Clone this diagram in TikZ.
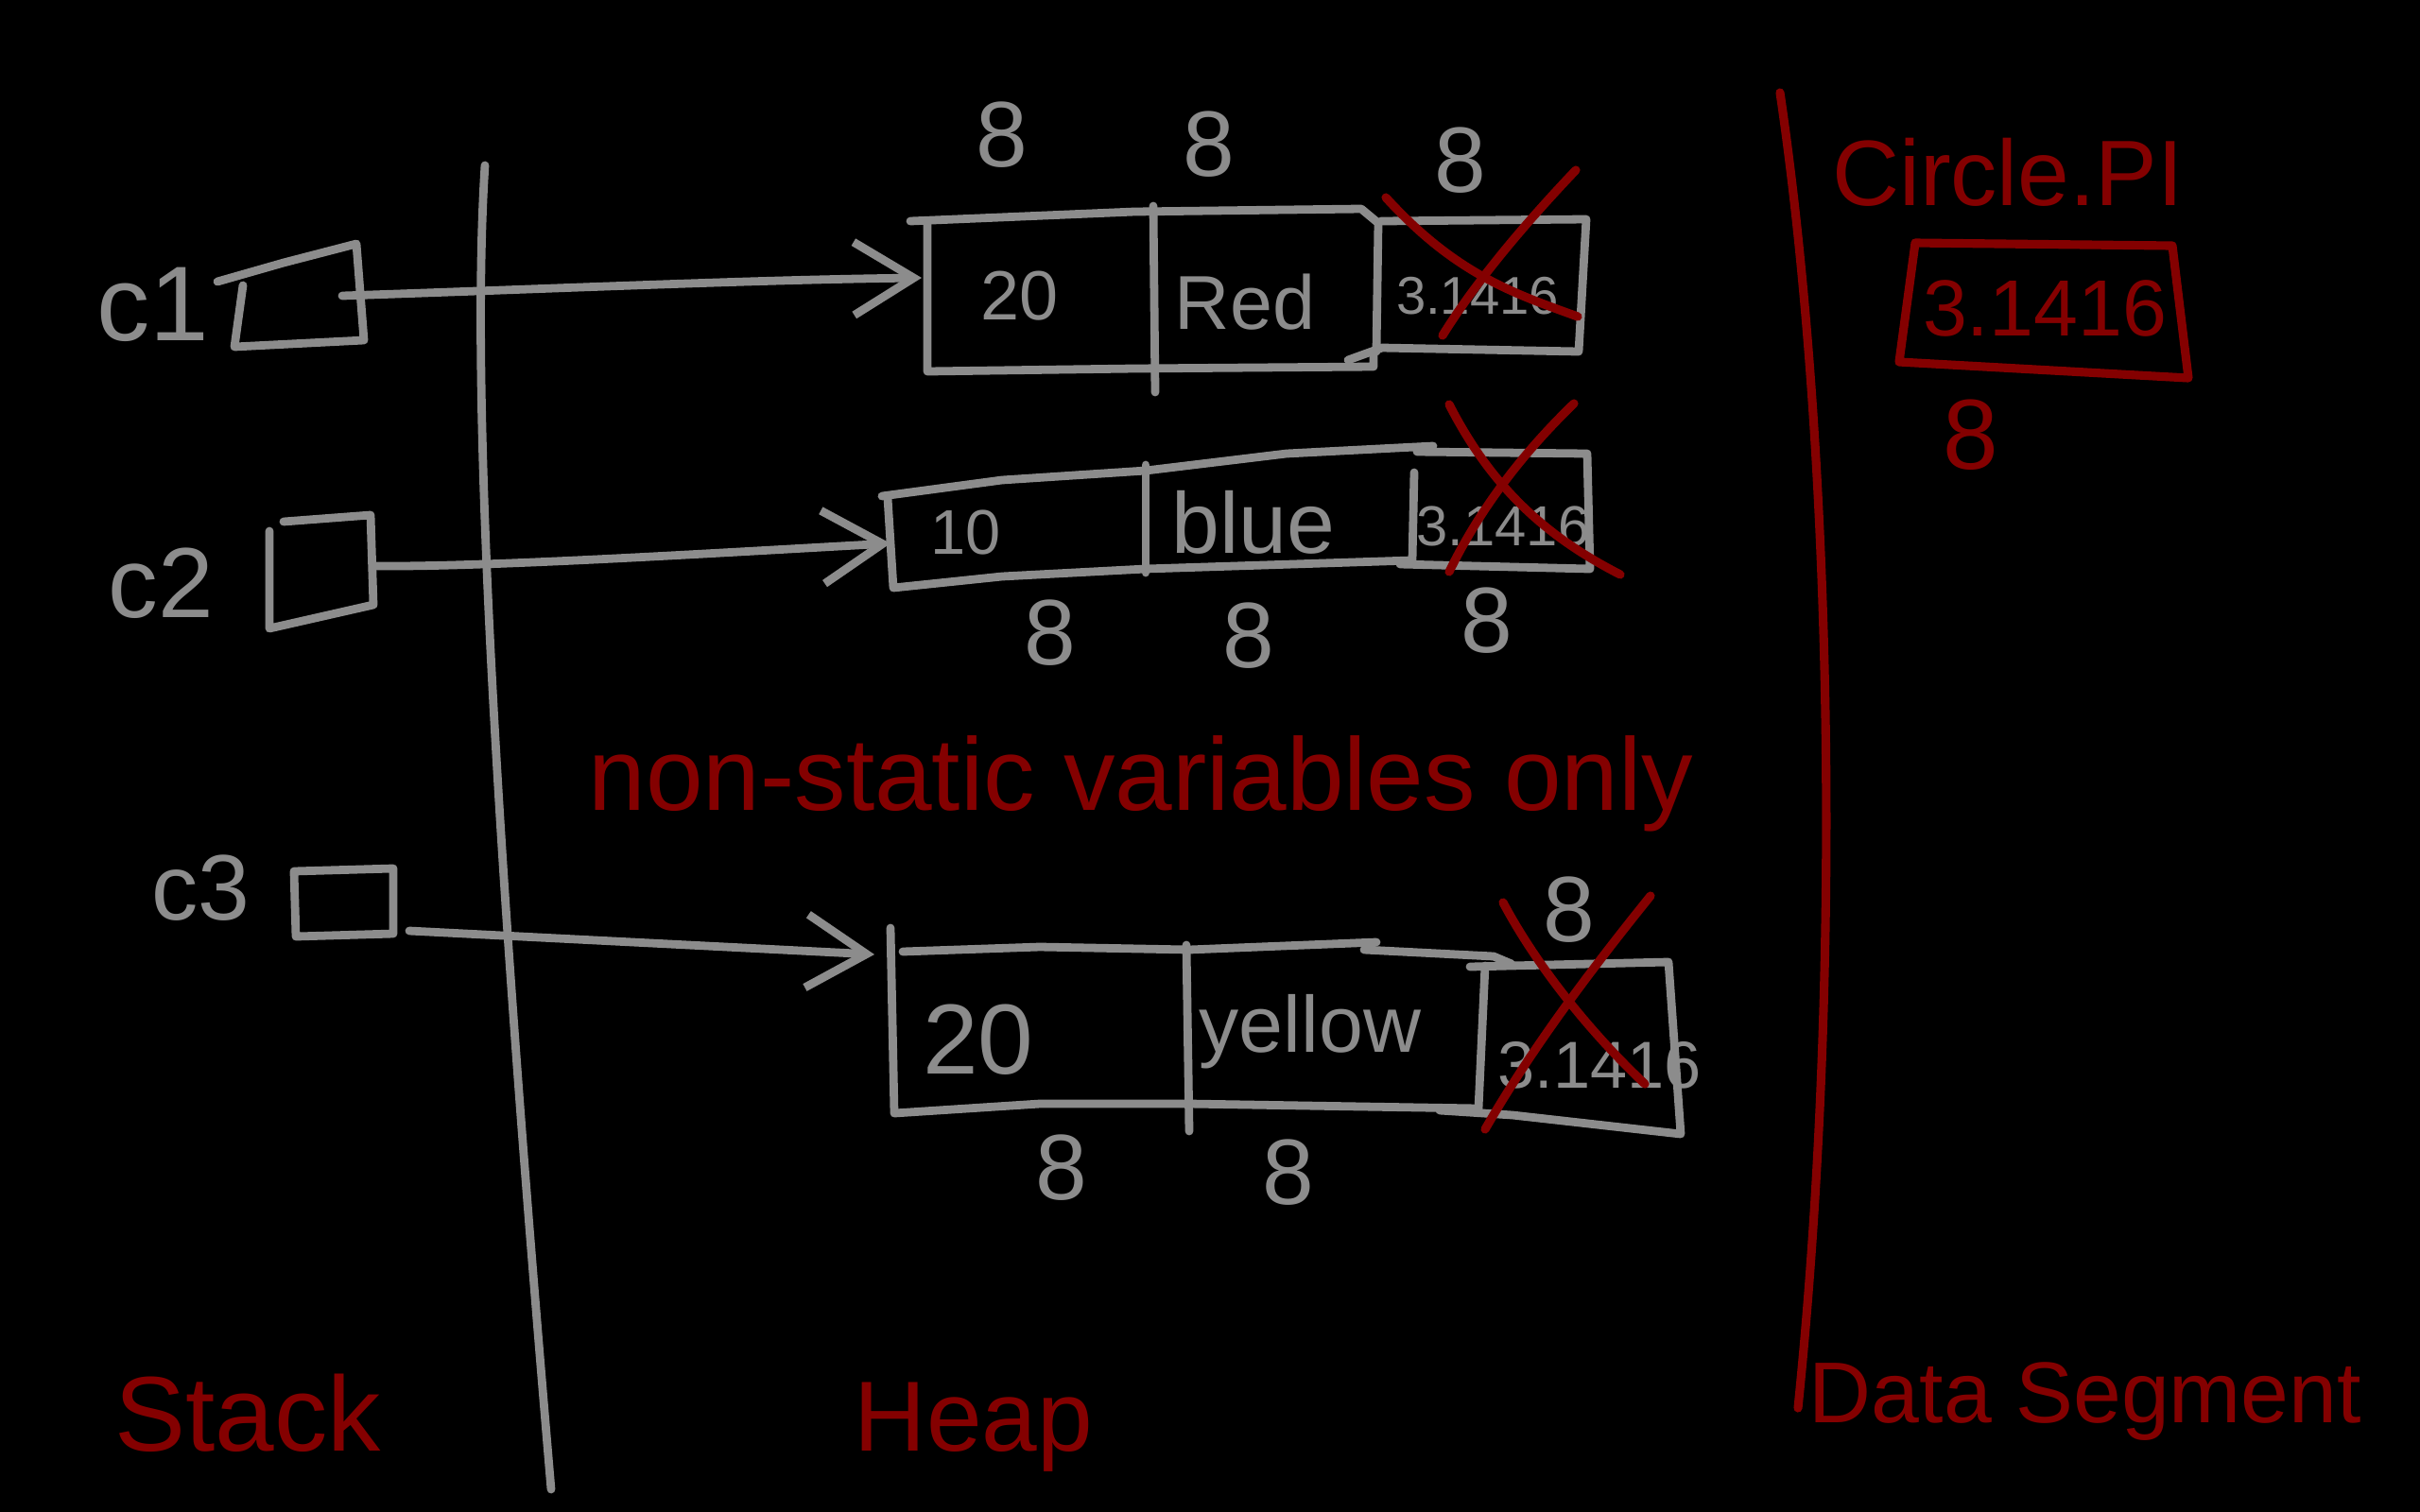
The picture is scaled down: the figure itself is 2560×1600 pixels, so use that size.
\documentclass[tikz,border=0pt]{standalone}
\usepackage{fontspec}
\setmainfont{Liberation Sans}
\usetikzlibrary{arrows.meta}
\definecolor{chalk}{RGB}{140,140,140}
\definecolor{ink}{RGB}{132,0,0}
\newcommand\myfs[1]{\fontsize{#1}{#1}\selectfont}
\begin{document}
\begin{tikzpicture}[x=0.1mm,y=-0.1mm,
  stroke/.style={draw=chalk,line width=2.5pt,line cap=round,line join=round},
  redstroke/.style={draw=ink,line width=2.6pt,line cap=round,line join=round},
  ptr/.style={stroke,-{Straight Barb[length=18pt,width=22pt,line width=2.5pt]}},
  gt/.style={text=chalk,inner sep=0pt},
  rt/.style={text=ink,inner sep=0pt},
]
\fill[black] (0,0) rectangle (2560,1600);
\useasboundingbox (0,0) rectangle (2560,1600);

% region dividers
\draw[stroke] (513,175) .. controls (497,420) and (525,900) .. (583,1576);
\draw[redstroke] (1883,98) .. controls (1935,450) and (1952,1000) .. (1902,1490);

% region labels
\node[rt,font=\myfs{32},anchor=base] (lstack) at (262,1535) {Stack};
\node[rt,font=\myfs{30},anchor=base] (lheap) at (1030,1535) {Heap};
\node[rt,font=\myfs{26},anchor=base] (ldata) at (2206,1505) {Data Segment};
\node[rt,font=\myfs{31},anchor=base] (lnote) at (1207,857) {non-static variables only};

% data segment static field
\node[rt,font=\myfs{28},anchor=base] (lpi) at (2124,217) {Circle.PI};
\draw[redstroke] (2026,257) -- (2298,260) -- (2315,400) -- (2009,383) -- (2026,257);
\node[rt,font=\myfs{24}] (vpi) at (2163,326) {3.1416};
\node[rt,font=\myfs{30}] (spi) at (2085,460) {8};

% stack variables
\node[gt,font=\myfs{32}] (lc1) at (162,322) {c1};
\node[gt,font=\myfs{30}] (lc2) at (170,617) {c2};
\node[gt,font=\myfs{28}] (lc3) at (212,940) {c3};
\draw[stroke] (257,302) -- (248,367) -- (385,360) -- (377,258) -- (300,278) -- (230,298);
\draw[stroke] (285,562) -- (285,665) -- (395,640) -- (392,545) -- (300,552);
\draw[stroke] (311,922) -- (313,991) -- (416,988) -- (416,919) -- (311,922);
\coordinate (s1) at (362,313);
\coordinate (s2) at (397,599);
\coordinate (s3) at (433,985);

% heap object 1
\draw[stroke] (963,234) -- (1200,224) -- (1440,221) -- (1458,236) -- (1456,372);
\draw[stroke] (981,236) -- (981,393) -- (1200,390) -- (1453,388) -- (1453,372);
\draw[stroke] (1220,218) -- (1222,415);
\draw[stroke] (1461,234) -- (1678,232) -- (1670,372) -- (1462,368) -- (1426,381);
\coordinate (h1) at (975,294);
\node[gt,font=\myfs{21}] (t11) at (1079,313) {20};
\node[gt,font=\myfs{23}] (t12) at (1317,320) {Red};
\node[gt,font=\myfs{16}] (t13) at (1563,313) {3.1416};
\node[gt,font=\myfs{28}] (z11) at (1060,143) {8};
\node[gt,font=\myfs{28}] (z12) at (1279,153) {8};
\node[gt,font=\myfs{28}] (z13) at (1545,170) {8};
\draw[redstroke] (1466,209) .. controls (1540,290) and (1600,310) .. (1669,335);
\draw[redstroke] (1667,180) .. controls (1610,240) and (1560,300) .. (1526,355);

% heap object 2
\draw[stroke] (939,527) -- (945,622) -- (1060,610) -- (1212,602) -- (1493,593);
\draw[stroke] (933,525) -- (1060,508) -- (1212,498) -- (1361,480) -- (1516,472);
\draw[stroke] (1212,492) -- (1212,606);
\draw[stroke] (1496,500) -- (1494,593);
\draw[stroke] (1499,478) -- (1679,480) -- (1682,602) -- (1481,597);
\coordinate (h2) at (942,575);
\node[gt,font=\myfs{19}] (t21) at (1022,563) {10};
\node[gt,font=\myfs{26}] (t22) at (1326,553) {blue};
\node[gt,font=\myfs{17}] (t23) at (1590,557) {3.1416};
\node[gt,font=\myfs{28}] (z21) at (1111,670) {8};
\node[gt,font=\myfs{28}] (z22) at (1321,673) {8};
\node[gt,font=\myfs{28}] (z23) at (1573,657) {8};
\draw[redstroke] (1533,428) .. controls (1580,520) and (1640,570) .. (1714,608);
\draw[redstroke] (1665,427) .. controls (1600,490) and (1560,550) .. (1533,605);

% heap object 3
\draw[stroke] (942,982) -- (946,1178) -- (1100,1168) -- (1258,1168) -- (1564,1173);
\draw[stroke] (955,1007) -- (1100,1002) -- (1258,1005) -- (1456,997);
\draw[stroke] (1443,1005) -- (1580,1012) -- (1599,1020);
\draw[stroke] (1255,1000) -- (1258,1197);
\draw[stroke] (1571,1022) -- (1564,1173);
\draw[stroke] (1555,1023) -- (1765,1018) -- (1778,1200) -- (1600,1180) -- (1523,1175);
\coordinate (h3) at (925,1010);
\node[gt,font=\myfs{30}] (t31) at (1035,1100) {20};
\node[gt,font=\myfs{24}] (t32) at (1386,1092) {yellow};
\node[gt,font=\myfs{20}] (t33) at (1692,1127) {3.1416};
\node[gt,font=\myfs{28}] (z33) at (1660,963) {8};
\node[gt,font=\myfs{28}] (z31) at (1123,1236) {8};
\node[gt,font=\myfs{28}] (z32) at (1363,1241) {8};
\draw[redstroke] (1590,955) .. controls (1630,1030) and (1690,1100) .. (1740,1147);
\draw[redstroke] (1746,948) .. controls (1680,1030) and (1620,1110) .. (1571,1195);

% pointers
\draw[ptr] (s1) .. controls (600,305) and (800,296) .. (h1);
\draw[ptr] (s2) .. controls (520,600) and (760,585) .. (h2);
\draw[ptr] (s3) -- (h3);
\end{tikzpicture}
\end{document}
